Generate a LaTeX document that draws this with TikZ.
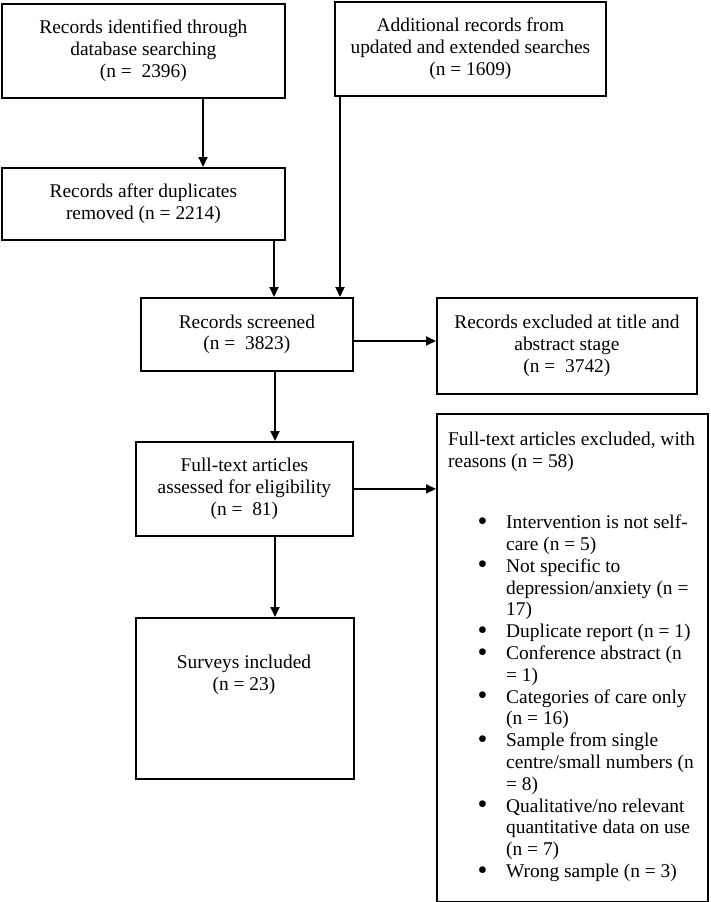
\documentclass[tikz,border=0pt]{standalone}
\usepackage{fontspec}
\usepackage{graphicx}
\setmainfont{Liberation Serif}
\usetikzlibrary{arrows.meta}
\newcommand\diafs{\fontsize{19.4pt}{21.8pt}\selectfont}
\newcommand\bitem{\hspace*{29.5pt}\makebox[28.5pt][l]{\smash{\raisebox{-1.6pt}{\scalebox{1.45}{\textbullet}}}}}
\newcommand\bcont{\hspace*{58pt}}
\begin{document}
\begin{tikzpicture}[x=1pt,y=-1pt,
  box/.style={draw, line width=1.8pt, inner sep=0pt, align=center, anchor=north west, font=\diafs},
  txt/.style={inner sep=0pt, font=\diafs},
  arr/.style={line width=1.8pt, -{Triangle[length=10pt,width=9pt]}}]
\useasboundingbox (0,0) rectangle (710,902);
\node[box, minimum width=283pt, minimum height=94pt] (b1) at (1,3) {Records identified through\\database searching\\(n =\ \ 2396)};
\node[box, minimum width=271pt, minimum height=94pt] (b2) at (334,1) {Additional records from\\updated and extended searches\\(n = 1609)};
\node[box, minimum width=283pt, minimum height=72pt] (b3) at (1,167) {Records after duplicates\\removed (n = 2214)};
\node[box, minimum width=212pt, minimum height=73pt] (b4) at (140,297) {Records screened\\(n =\ \ 3823)};
\node[box, minimum width=260pt, minimum height=96pt] (b5) at (436,297) {Records excluded at title and\\abstract stage\\(n =\ \ 3742)};
\node[box, minimum width=217pt, minimum height=94pt] (b6) at (135,441) {Full-text articles\\assessed for eligibility\\(n =\ \ 81)};
\node[box, minimum width=271pt, minimum height=488pt] (b7) at (436,413) {};
\node[box, minimum width=218pt, minimum height=161pt] (b8) at (135,617) {};
\node[txt, anchor=base, align=center] (b8t) at (244,690) {Surveys included\\(n = 23)};
\node[txt, anchor=north west, align=left] (b7t) at (448,432) {Full-text articles excluded, with\\
reasons (n = 58)\\[39.5pt]
\bitem Intervention is not self-\\
\bcont care (n = 5)\\
\bitem Not specific to\\
\bcont depression/anxiety (n =\\
\bcont 17)\\
\bitem Duplicate report (n = 1)\\
\bitem Conference abstract (n\\
\bcont = 1)\\
\bitem Categories of care only\\
\bcont (n = 16)\\
\bitem Sample from single\\
\bcont centre/small numbers (n\\
\bcont = 8)\\
\bitem Qualitative/no relevant\\
\bcont quantitative data on use\\
\bcont (n = 7)\\
\bitem Wrong sample (n = 3)};
\coordinate (x1) at (203,0);
\coordinate (x2) at (274,0);
\coordinate (x3) at (340,0);
\coordinate (x4) at (275,0);
\coordinate (y1) at (0,341);
\draw[arr] (b1.south -| x1) -- (b3.north -| x1);
\draw[arr] (b3.south -| x2) -- (b4.north -| x2);
\draw[arr] (b2.south -| x3) -- (b4.north -| x3);
\draw[arr] (b4.east |- y1) -- (b5.west |- y1);
\draw[arr] (b4.south -| x4) -- (b6.north -| x4);
\draw[arr] (b6.east) -- (b7.west |- b6.east);
\draw[arr] (b6.south -| x4) -- (b8.north -| x4);
\end{tikzpicture}
\end{document}
